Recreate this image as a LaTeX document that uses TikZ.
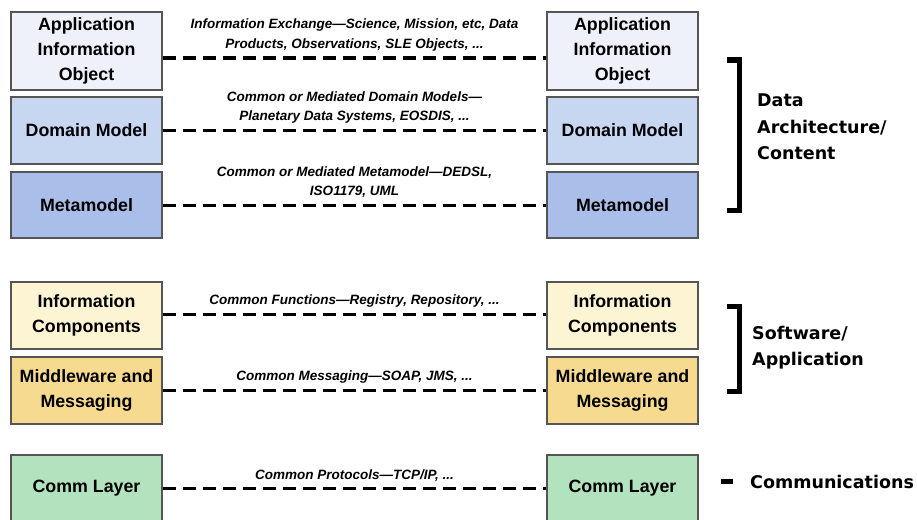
\documentclass[tikz,border=0pt]{standalone}
\usepackage{fontspec}
\setmainfont{Liberation Sans}
\newfontfamily\groupfont{DejaVu Sans}
\usepackage{tikz}
\usetikzlibrary{positioning}
\definecolor{boxgray}{HTML}{555555}
\definecolor{aiofill}{HTML}{EEF0FA}
\definecolor{domfill}{HTML}{C8D7F1}
\definecolor{metafill}{HTML}{A9BEE8}
\definecolor{infofill}{HTML}{FCF4D2}
\definecolor{midfill}{HTML}{F6DA90}
\definecolor{commfill}{HTML}{B2E3BE}
\tikzstyle{layer}=[rectangle, draw=boxgray, line width=1.2pt, minimum width=151pt, inner sep=0pt, align=center, font=\fontsize{17.8}{25}\selectfont\bfseries]
\newcommand{\layer}{\node[layer]}
\tikzstyle{note}=[font=\fontsize{13.5}{19.5}\selectfont\bfseries\itshape, align=center, inner sep=2pt]
\tikzstyle{group}=[font=\groupfont\fontsize{17.5}{26.5}\selectfont\bfseries, align=left, anchor=west, inner sep=0pt]
\tikzstyle{bracket}=[line width=5pt, miter limit=4]

\begin{document}
\begin{tikzpicture}[x=1pt, y=-1pt,
            every edge/.style={draw, line width=3pt, dash pattern=on 13pt off 7pt}
        ]
            \useasboundingbox (0,0) rectangle (917,519);

            \layer (aioL) at (86.5,51) [fill=aiofill, minimum height=78pt]{Application\\Information\\Object};
            \layer (domL) at (86.5,130.5) [fill=domfill, minimum height=67pt]{Domain Model};
            \layer (metaL) at (86.5,205) [fill=metafill, minimum height=66pt]{Metamodel};
            \layer (infoL) at (86.5,315.5) [fill=infofill, minimum height=67pt]{Information\\Components};
            \layer (midL) at (86.5,390.5) [fill=midfill, minimum height=67pt]{Middleware and\\Messaging};
            \layer (commL) at (86.5,488.5) [fill=commfill, minimum height=67pt]{Comm Layer};

            \layer (aioR) at (622.5,51) [fill=aiofill, minimum height=78pt]{Application\\Information\\Object};
            \layer (domR) at (622.5,130.5) [fill=domfill, minimum height=67pt]{Domain Model};
            \layer (metaR) at (622.5,205) [fill=metafill, minimum height=66pt]{Metamodel};
            \layer (infoR) at (622.5,315.5) [fill=infofill, minimum height=67pt]{Information\\Components};
            \layer (midR) at (622.5,390.5) [fill=midfill, minimum height=67pt]{Middleware and\\Messaging};
            \layer (commR) at (622.5,488.5) [fill=commfill, minimum height=67pt]{Comm Layer};

            \path
                ([yshift=-7pt]aioL.east) edge node[note, above=3.5pt]{Information Exchange---Science, Mission, etc, Data\\Products, Observations, SLE Objects, ...} ([yshift=-7pt]aioR.west)
                (domL) edge node[note, above=3.5pt]{Common or Mediated Domain Models---\\Planetary Data Systems, EOSDIS, ...} (domR)
                (metaL) edge node[note, above=3.5pt]{Common or Mediated Metamodel---DEDSL,\\ISO1179, UML} (metaR)
                ([yshift=1.5pt]infoL.east) edge node[note, above=3.5pt]{Common Functions---Registry, Repository, ...} ([yshift=1.5pt]infoR.west)
                (midL) edge node[note, above=3.5pt]{Common Messaging---SOAP, JMS, ...} (midR)
                (commL) edge node[note, above=3.5pt]{Common Protocols---TCP/IP, ...} (commR)
            ;

            % brackets on the right
            \draw[bracket] (727,60) -- (739,60) -- (739,210) -- (727,210);
            \draw[bracket] (727,306) -- (739,306) -- (739,391) -- (727,391);
            \draw[bracket] (721,481) -- (733,481);

            \node[group] (data) at (757,127) {Data\\Architecture/\\Content};
            \node[group] (soft) at (752,347.5) {Software/\\Application};
            \node[group] (comm) at (750,482) {Communications};
        \end{tikzpicture}
\end{document}
